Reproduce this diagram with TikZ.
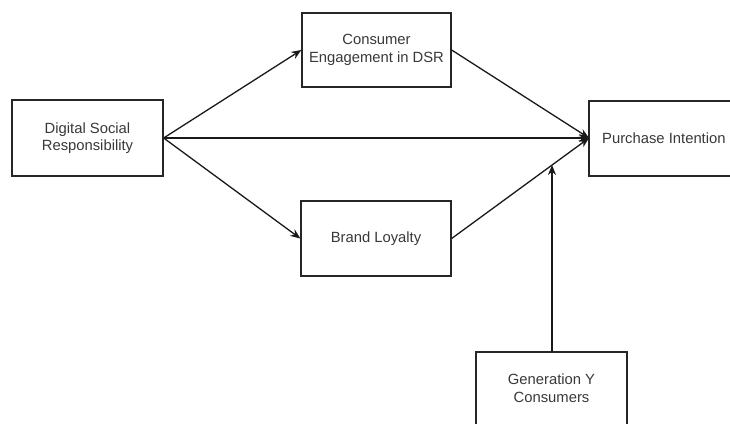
\documentclass[tikz,border=0pt]{standalone}
\usepackage{fontspec}
\setmainfont{Liberation Sans}
\usetikzlibrary{arrows.meta}
\begin{document}
\begin{tikzpicture}[x=1pt,y=-1pt,
  txt/.style={text=black!78,font=\fontsize{14.8}{17.5}\selectfont,align=center},
  box/.style={txt,draw=black!85,line width=1.3pt,inner sep=0pt},
  conn/.style={draw=black!90,line width=1.3pt,-{Stealth[length=10pt,width=8pt]}}]
\useasboundingbox (0,0) rectangle (730,423);
\node[box,minimum width=151pt,minimum height=76pt] (dsr) at (87.5,138) {Digital Social\\Responsibility};
\node[box,minimum width=149pt,minimum height=74pt] (ce) at (376.5,50) {Consumer\\Engagement in DSR};
\node[box,minimum width=150pt,minimum height=75pt] (bl) at (376,238.5) {Brand Loyalty};
\draw[draw=black!85,line width=1.3pt] (735,101) -- (589,101) -- (589,176) -- (735,176);
\node[txt,anchor=west,inner sep=0pt] (pit) at (602,138) {Purchase Intention};
\coordinate (pi) at (589,138);
\draw[draw=black!85,line width=1.3pt] (476,430) -- (476,352) -- (627,352) -- (627,430);
\node[txt] (gy) at (551.5,388) {Generation Y\\Consumers};
\coordinate (gytop) at (552,352);
\coordinate (mod) at (552,165);
\draw[conn] (dsr.east) -- (ce.west);
\draw[conn] (dsr.east) -- (bl.west);
\draw[conn] (dsr.east) -- (pi);
\draw[conn] (ce.east) -- (pi);
\draw[conn] (bl.east) -- (pi);
\draw[conn] (gytop) -- (mod);
\end{tikzpicture}
\end{document}
